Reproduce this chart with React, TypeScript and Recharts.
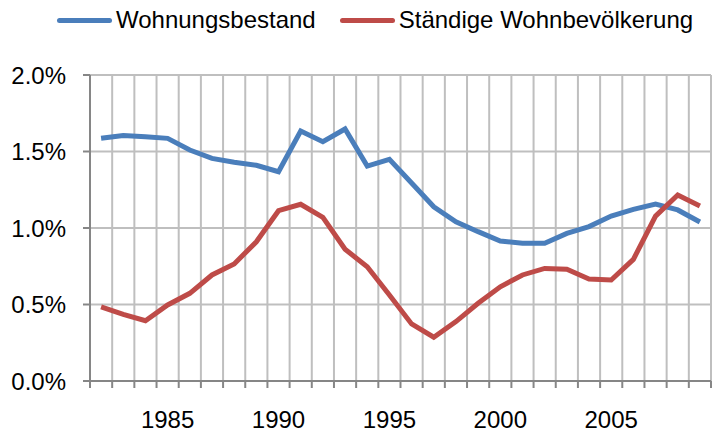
import React from "react";
import {
  LineChart,
  Line,
  XAxis,
  YAxis,
  CartesianGrid,
  Legend,
} from "recharts";

const years = [
  1982, 1983, 1984, 1985, 1986, 1987, 1988, 1989, 1990, 1991, 1992, 1993, 1994,
  1995, 1996, 1997, 1998, 1999, 2000, 2001, 2002, 2003, 2004, 2005, 2006, 2007,
  2008, 2009,
];
const wohnungsbestand = [
  1.586, 1.605, 1.597, 1.586, 1.51, 1.455, 1.43, 1.41, 1.368, 1.634, 1.564,
  1.647, 1.405, 1.449, 1.294, 1.139, 1.041, 0.976, 0.915, 0.9, 0.9, 0.965,
  1.009, 1.078, 1.122, 1.157, 1.118, 1.039,
];
const wohnbevoelkerung = [
  0.484, 0.436, 0.394, 0.497, 0.573, 0.693, 0.765, 0.91, 1.113, 1.155, 1.07,
  0.861, 0.747, 0.562, 0.373, 0.286, 0.388, 0.508, 0.616, 0.693, 0.736, 0.73,
  0.667, 0.66, 0.795, 1.078, 1.216, 1.144,
];
const yTicks = [0, 0.5, 1, 1.5, 2];
const labelTicks = [1985, 1990, 1995, 2000, 2005];
const boundaryTicks = [...years.map((y) => y - 0.5), years[years.length - 1] + 0.5];

const seriesNames = ["Wohnungsbestand", "Ständige Wohnbevölkerung"];
const colors = ["#4A7EBB", "#BE4B48"];

const data = years.map((year, i) => ({
  year,
  a: wohnungsbestand[i],
  b: wohnbevoelkerung[i],
}));

const FONT = "'Liberation Sans', Arial, sans-serif";

function LegendContent() {
  return (
    <div
      style={{
        height: 40,
        display: "flex",
        alignItems: "center",
        fontFamily: FONT,
        fontSize: 24,
        color: "#000",
        whiteSpace: "nowrap",
      }}
    >
      {seriesNames.map((name, i) => (
        <div
          key={name}
          style={{ display: "flex", alignItems: "center", marginLeft: i === 0 ? 57 : 24 }}
        >
          <div
            style={{
              width: 55,
              height: 5,
              borderRadius: 3,
              background: colors[i],
              marginRight: 4,
            }}
          />
          <span>{name}</span>
        </div>
      ))}
    </div>
  );
}

export default function App() {
  return (
    <div style={{ width: 712, height: 434, background: "#fff" }}>
      <style>{"body{margin:0}"}</style>
      <LineChart
        width={712}
        height={434}
        data={data}
        margin={{ top: 35, right: 1, bottom: 0, left: 0 }}
        style={{ fontFamily: FONT }}
      >
        <Legend
          verticalAlign="top"
          align="left"
          content={<LegendContent />}
          wrapperStyle={{ top: 0, left: 0 }}
        />
        <CartesianGrid
          xAxisId="grid"
          stroke="#BFBFBF"
          strokeWidth={2}
          vertical
          horizontal
        />
        <XAxis
          xAxisId="grid"
          dataKey="year"
          type="number"
          domain={[1981.5, 2009.5]}
          ticks={boundaryTicks}
          tickFormatter={() => ""}
          axisLine={{ stroke: "#868686", strokeWidth: 2 }}
          tickLine={{ stroke: "#868686", strokeWidth: 2 }}
          tickSize={7}
          height={8}
          interval={0}
        />
        <XAxis
          xAxisId="labels"
          dataKey="year"
          type="number"
          domain={[1981.5, 2009.5]}
          ticks={labelTicks}
          axisLine={false}
          tickLine={false}
          tickMargin={16}
          height={45}
          interval={0}
          tick={{ fill: "#000", fontSize: 24 }}
        />
        <YAxis
          domain={[0, 2]}
          ticks={yTicks}
          tickFormatter={(v: number) => v.toFixed(1) + "%"}
          width={90}
          axisLine={{ stroke: "#868686", strokeWidth: 2 }}
          tickLine={{ stroke: "#868686", strokeWidth: 2 }}
          tickSize={7}
          tickMargin={17}
          tick={{ fill: "#000", fontSize: 24 }}
          interval={0}
        />
        <Line
          xAxisId="grid"
          dataKey="a"
          name={seriesNames[0]}
          stroke={colors[0]}
          strokeWidth={5}
          dot={false}
          type="linear"
          isAnimationActive={false}
        />
        <Line
          xAxisId="grid"
          dataKey="b"
          name={seriesNames[1]}
          stroke={colors[1]}
          strokeWidth={5}
          dot={false}
          type="linear"
          isAnimationActive={false}
        />
      </LineChart>
    </div>
  );
}
